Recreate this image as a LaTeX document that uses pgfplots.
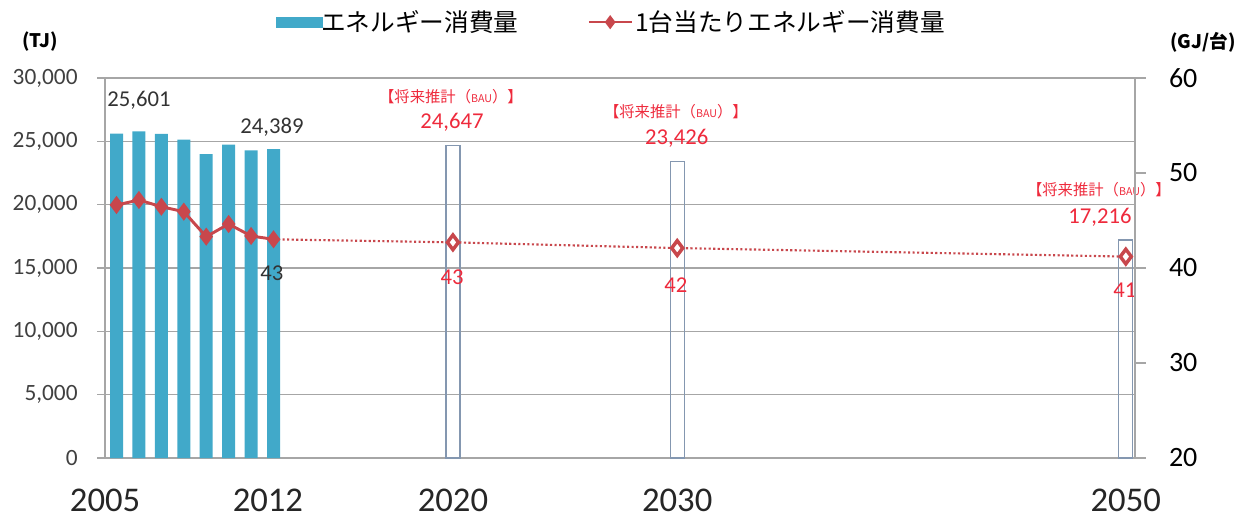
\documentclass[border=0pt]{standalone}
\usepackage{fontspec}
\setmainfont{Carlito}
\newfontfamily\jp{Noto Sans CJK JP}
\usepackage{pgfplots}
\pgfplotsset{compat=1.18}
\definecolor{barblue}{HTML}{41A9C9}
\definecolor{linered}{HTML}{C8474C}
\definecolor{labred}{HTML}{EE2A3C}
\definecolor{gridgray}{HTML}{A6A6A6}
\definecolor{outl}{HTML}{8497B0}
\begin{document}
\begin{tikzpicture}
\useasboundingbox (0,0) rectangle (937.5pt,389.25pt);
\begin{axis}[
 at={(78.75pt,45.75pt)}, anchor=south west,
 scale only axis, width=772.5pt, height=285pt,
 xmin=2004.487, xmax=2050.41,
 ymin=0, ymax=30000,
 ytick={0,5000,...,30000},
 axis x line*=bottom, axis y line*=left,
 axis line style={gridgray, line width=0.9pt, -},
 ymajorgrids, grid style={gridgray, line width=0.9pt},
 xtick={2004.49,2011.75,2020,2030,2050},
 xticklabels={2005,2012,2020,2030,2050},
 x tick label style={font=\fontsize{26}{26}\selectfont, text=black!85, yshift=-14pt},
 xtick style={draw=none},
 ytick style={gridgray, line width=0.9pt},
 tick align=outside, major tick length=6pt,
 y tick label style={font=\fontsize{17.5}{17.5}\selectfont, text=black!75, xshift=-11pt},
 scaled y ticks=false,
 /pgf/number format/assume math mode=true,
 /pgf/number format/1000 sep={,},
 clip=false,
]
\addplot[ybar, bar width=9.75pt, bar shift=0pt, fill=barblue, draw=none] coordinates {(2005,25601)(2006,25790)(2007,25580)(2008,25130)(2009,24000)(2010,24740)(2011,24290)(2012,24389)};
\addplot[ybar, bar width=10.5pt, bar shift=0pt, fill=none, draw=outl, line width=0.9pt] coordinates {(2020,24647)(2030,23426)(2050,17216)};
\node[font=\fontsize{17}{17}\selectfont, text=black!80] at (axis cs:2006.0,28263) {25,601};
\node[font=\fontsize{17}{17}\selectfont, text=black!80] at (axis cs:2011.93,26132) {24,389};
\node[font=\fontsize{17}{17}\selectfont, text=black!80] at (axis cs:2011.93,14605) {43};
\node[font=\jp\fontsize{11.5}{11.5}\selectfont, text=labred] at (axis cs:2019.91,28500) {【将来推計（{\fontsize{8}{8}\selectfont BAU}）】};
\node[font=\fontsize{17}{17}\selectfont, text=labred] at (axis cs:2019.96,26526) {24,647};
\node[font=\jp\fontsize{11.5}{11.5}\selectfont, text=labred] at (axis cs:2029.94,27316) {【将来推計（{\fontsize{8}{8}\selectfont BAU}）】};
\node[font=\fontsize{17}{17}\selectfont, text=labred] at (axis cs:2029.98,25263) {23,426};
\node[font=\jp\fontsize{11.5}{11.5}\selectfont, text=labred] at (axis cs:2048.8,21158) {【将来推計（{\fontsize{8}{8}\selectfont BAU}）】};
\node[font=\fontsize{17}{17}\selectfont, text=labred] at (axis cs:2048.85,19026) {17,216};
\node[font=\fontsize{17}{17}\selectfont, text=labred] at (axis cs:2019.96,14289) {43};
\node[font=\fontsize{17}{17}\selectfont, text=labred] at (axis cs:2029.94,13658) {42};
\node[font=\fontsize{17}{17}\selectfont, text=labred] at (axis cs:2049.96,13263) {41};
\end{axis}
\begin{axis}[
 at={(78.75pt,45.75pt)}, anchor=south west,
 scale only axis, width=772.5pt, height=285pt,
 xmin=2004.487, xmax=2050.41,
 ymin=20, ymax=60,
 ytick={20,30,...,60},
 axis x line=none, axis y line*=right,
 axis line style={gridgray, line width=0.9pt, -},
 ytick style={gridgray, line width=0.9pt},
 tick align=outside, major tick length=8pt,
 y tick label style={font=\fontsize{21}{21}\selectfont, text=black, xshift=14pt},
 /pgf/number format/assume math mode=true,
 clip=false,
 legend columns=2,
 legend style={at={(0.492,1.147)}, anchor=center, draw=none, fill=none,
   font=\jp\fontsize{18.5}{18.5}\selectfont,
   /tikz/every even column/.append style={column sep=50pt}},
]
\addlegendimage{legend image code/.code={\fill[barblue] (0pt,-4pt) rectangle (34.5pt,4pt);}}
\addlegendentry{\hspace{-3pt}エネルギー消費量}
\addplot[linered, line width=2.2pt, mark=diamond*, mark size=5pt, mark options={fill=linered, draw=linered, solid},
  legend image code/.code={\draw[line width=1.6pt, mark size=4pt, mark repeat=2,mark phase=2] plot coordinates {(0pt,0pt)(16pt,0pt)(32pt,0pt)};}]
  coordinates {(2005,46.63)(2006,47.16)(2007,46.45)(2008,45.93)(2009,43.3)(2010,44.63)(2011,43.37)(2012,43.02)};
\addlegendentry{1台当たりエネルギー消費量}
\addplot[linered, line width=1.6pt, dash pattern=on 1.6pt off 1.8pt, mark=diamond*, mark size=5.5pt, mark indices={2,3,4},
  mark options={fill=white, draw=linered, line width=2.6pt, solid}, forget plot]
  coordinates {(2012,43.02)(2020,42.7)(2030,42.1)(2050,41.2)};
\end{axis}
\node[font=\jp\bfseries\fontsize{14}{14}\selectfont] at ({40*0.75pt},{(519-42)*0.75pt}) {(TJ)};
\node[font=\jp\bfseries\fontsize{14}{14}\selectfont] at ({1203*0.75pt},{(519-42)*0.75pt}) {(GJ/台)};
\end{tikzpicture}
\end{document}
